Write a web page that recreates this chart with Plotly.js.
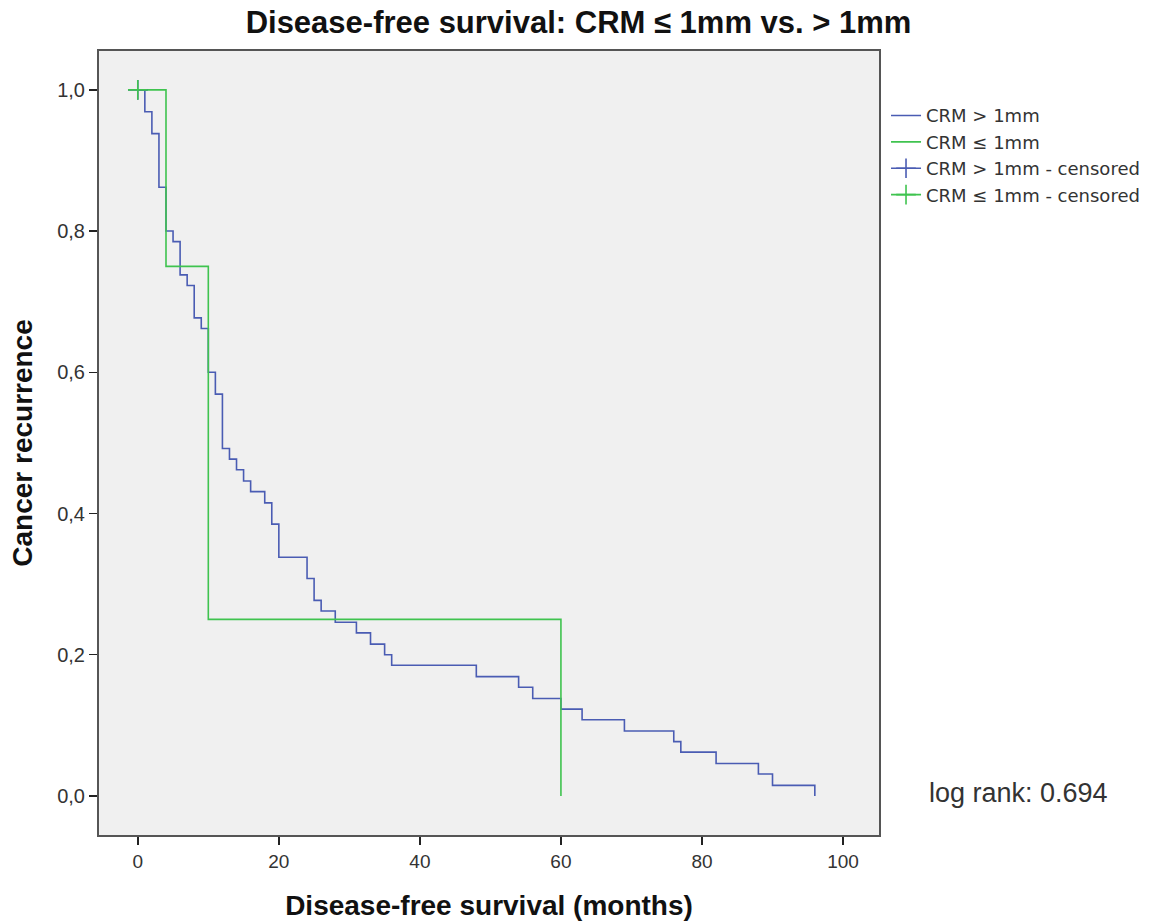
<!DOCTYPE html>
<html>
<head>
<meta charset="utf-8">
<script src="https://cdn.plot.ly/plotly-3.0.1.min.js"></script>
<style>
  html, body { margin: 0; padding: 0; background: #ffffff; }
  #chart { width: 1157px; height: 924px; }
</style>
</head>
<body>
<div id="chart"></div>
<script>
// Kaplan-Meier step estimates, disease-free survival (months)
const wideTimes = [0, 1, 2, 3, 4, 5, 6, 7, 8, 9, 10, 11, 12, 13, 14, 15, 16, 18, 19, 20,
                   24, 25, 26, 28, 31, 33, 35, 36, 48, 54, 56, 60, 63, 69, 76, 77, 82, 88, 90, 96];
const wideSurv  = [1.000, 0.969, 0.938, 0.862, 0.800, 0.785, 0.738, 0.723, 0.677, 0.662,
                   0.600, 0.569, 0.492, 0.477, 0.462, 0.446, 0.431, 0.415, 0.385, 0.338,
                   0.308, 0.277, 0.262, 0.246, 0.231, 0.215, 0.200, 0.185, 0.169, 0.154,
                   0.138, 0.123, 0.108, 0.092, 0.077, 0.062, 0.046, 0.031, 0.015, 0.000];

const closeTimes = [0, 4, 10, 60];
const closeSurv  = [1.00, 0.75, 0.25, 0.00];

// censored observations
const wideCensTimes = [0];
const wideCensSurv  = [1.0];
const closeCensTimes = [0];
const closeCensSurv  = [1.0];

const seriesNames = ['CRM > 1mm', 'CRM \u2264 1mm', 'CRM > 1mm - censored', 'CRM \u2264 1mm - censored'];

const xTickVals = [0, 20, 40, 60, 80, 100];
const yTickVals = [0, 0.2, 0.4, 0.6, 0.8, 1.0];
const yTickText = ['0,0', '0,2', '0,4', '0,6', '0,8', '1,0'];

const logRankText = 'log rank: 0.694';

const BLUE = '#4a5cb3';
const GREEN = '#3fc34f';

const traces = [
  { x: wideTimes, y: wideSurv, name: seriesNames[0], type: 'scatter', mode: 'lines',
    line: { shape: 'hv', color: BLUE, width: 1.6 } },
  { x: closeTimes, y: closeSurv, name: seriesNames[1], type: 'scatter', mode: 'lines',
    line: { shape: 'hv', color: GREEN, width: 1.6 } },
  { x: wideCensTimes, y: wideCensSurv, name: seriesNames[2], type: 'scatter', mode: 'lines+markers',
    line: { color: BLUE, width: 1.6 },
    marker: { symbol: 'cross-thin', size: 14, color: BLUE, line: { color: BLUE, width: 1.6 } } },
  { x: closeCensTimes, y: closeCensSurv, name: seriesNames[3], type: 'scatter', mode: 'lines+markers',
    line: { color: GREEN, width: 1.6 },
    marker: { symbol: 'cross-thin', size: 14, color: GREEN, line: { color: GREEN, width: 1.6 } } }
];

const layout = {
  width: 1157, height: 924,
  paper_bgcolor: '#ffffff',
  plot_bgcolor: '#f0f0f0',
  margin: { l: 99, r: 278, t: 51, b: 89 },
  font: { family: 'Liberation Sans, Arial, sans-serif', color: '#222222' },
  title: {
    text: 'Disease-free survival: CRM \u2264 1mm vs. > 1mm',
    x: 0.5, xref: 'container', xanchor: 'center',
    y: 0.976, yref: 'container', yanchor: 'middle',
    font: { size: 31, color: '#111111', family: 'Liberation Sans, Arial, sans-serif', weight: 'bold' }
  },
  xaxis: {
    range: [-5.5, 105.1],
    tickvals: xTickVals,
    ticks: 'outside', ticklen: 8, tickwidth: 1.5, tickcolor: '#222222',
    tickfont: { size: 19, color: '#333333' },
    showgrid: false, zeroline: false,
    showline: true, linecolor: '#555555', linewidth: 2, mirror: true,
    title: { text: 'Disease-free survival (months)', standoff: 25,
             font: { size: 28, color: '#111111', weight: 'bold' } }
  },
  yaxis: {
    range: [-0.0553, 1.055],
    tickvals: yTickVals, ticktext: yTickText,
    ticks: 'outside', ticklen: 8, tickwidth: 1.5, tickcolor: '#222222',
    tickfont: { size: 20, color: '#333333' },
    showgrid: false, zeroline: false,
    showline: true, linecolor: '#555555', linewidth: 2, mirror: true,
    title: { text: 'Cancer recurrence', standoff: 16,
             font: { size: 28, color: '#111111', weight: 'bold' } }
  },
  legend: {
    x: 1.009, xanchor: 'left', xref: 'paper',
    y: 0.941, yanchor: 'top',
    bgcolor: 'rgba(0,0,0,0)',
    font: { size: 18, color: '#333333', family: 'DejaVu Sans, Liberation Sans, sans-serif' },
    itemwidth: 30,
    tracegroupgap: 0
  },
  annotations: [{
    text: logRankText, xref: 'paper', yref: 'paper',
    x: 1.061, y: 0.054, xanchor: 'left', yanchor: 'middle',
    showarrow: false,
    font: { size: 27, color: '#333333', family: 'Liberation Sans, Arial, sans-serif' }
  }]
};

Plotly.newPlot('chart', traces, layout, { displayModeBar: false, staticPlot: true });
</script>
</body>
</html>
